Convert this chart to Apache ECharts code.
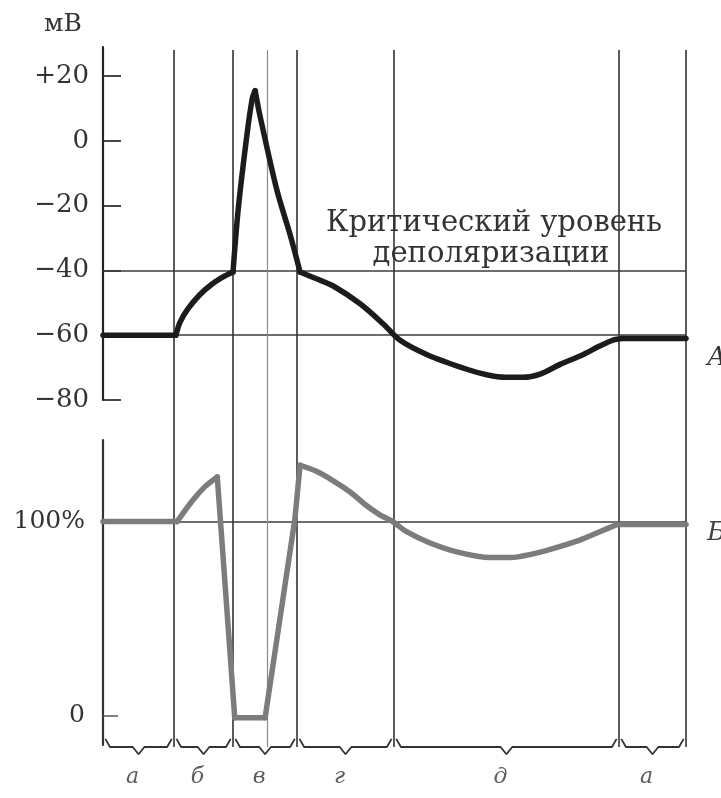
<!DOCTYPE html>
<html><head><meta charset="utf-8">
<script src="https://cdn.jsdelivr.net/npm/echarts@6/dist/echarts.min.js"></script>
<style>html,body{margin:0;padding:0;background:#fff}#c{width:721px;height:798px}</style>
</head><body><div id="c"></div>
<script>
// ---- data ----
const phaseBounds = [0, 12.2, 22.3, 33.3, 49.9, 88.5, 100];
const phaseLabels = ['а', 'б', 'в', 'г', 'д', 'а'];
const innerLines = [28.1];
const mvTicks = [20, 0, -20, -40, -60, -80];
const excitTicks = [0, 100];
const criticalLevel = -40;
const restLevel = -60;
const fullExcit = 100;

const potentialT  = [0, 12.5, 13.2, 14.5, 16.6, 18.5, 20.3, 22.3, 23.2, 24.7, 25.6, 26.1, 26.9, 29.8, 32.1, 33.8, 36.5, 39.5, 44.1, 48, 50.9, 55.6, 62.4, 66, 69, 72, 75, 78.4, 82.3, 85, 87.5, 89, 100];
const potentialMv = [-60, -60, -56, -52, -47.5, -44.5, -42.3, -40.5, -21, 2, 13, 15.5, 8, -15, -29, -40.5, -42.5, -44.8, -50.3, -56.4, -61.5, -66, -70.5, -72.3, -73, -73, -72, -69, -66, -63.5, -61.5, -61, -61];
const potentialCorners = [0, 1, 7, 11, 15, 31, 32];

const excitT   = [0, 12.7, 15.4, 17.5, 19.6, 22.6, 27.8, 32.9, 33.8, 36.5, 39.5, 42.5, 45.3, 47.5, 49.7, 52, 56.1, 61.2, 66.4, 70, 73.2, 77, 81.8, 85, 88.2, 100];
const excitPct = [100, 100, 111, 118, 123, -1, -1, 101, 129, 126, 121, 115, 108, 103.5, 100, 95, 89, 84, 81.5, 81.5, 83, 86, 90.5, 94.5, 98.5, 98.5];
const excitCorners = [0, 1, 4, 5, 6, 7, 8, 24, 25];

// ---- build ----
const FONT = 'DejaVu Serif';
function segments(ts, vs, corners, xi, yi, color, z) {
  const out = [];
  for (let i = 0; i < corners.length - 1; i++) {
    const a = corners[i], b = corners[i + 1];
    const d = [];
    for (let k = a; k <= b; k++) d.push([ts[k], vs[k]]);
    out.push({
      type: 'line', xAxisIndex: xi, yAxisIndex: yi, data: d, showSymbol: false,
      smooth: d.length > 2 ? 0.3 : false, z: z, silent: true,
      lineStyle: { color: color, width: 5.5, cap: 'round', join: 'round' }
    });
  }
  return out;
}
function hLine(xi, yi, v) {
  return { type: 'line', xAxisIndex: xi, yAxisIndex: yi, data: [], z: 1, silent: true,
    markLine: { symbol: 'none', silent: true, animation: false, label: { show: false },
      lineStyle: { type: 'solid', color: '#3c3c3c', width: 1.5 }, data: [{ yAxis: v }] } };
}
const series = [];
series.push(hLine(0, 0, criticalLevel));
series.push(hLine(0, 0, restLevel));
series.push(hLine(1, 1, fullExcit));
// vertical phase boundaries
series.push({ type: 'line', xAxisIndex: 2, yAxisIndex: 2, data: [], z: 1, silent: true,
  markLine: { symbol: 'none', silent: true, animation: false, label: { show: false },
    lineStyle: { type: 'solid', color: '#333', width: 1.6 },
    data: phaseBounds.slice(1).map(v => ({ xAxis: v })) } });
series.push({ type: 'line', xAxisIndex: 2, yAxisIndex: 2, data: [], z: 1, silent: true,
  markLine: { symbol: 'none', silent: true, animation: false, label: { show: false },
    lineStyle: { type: 'solid', color: '#8a8a8a', width: 1.2 },
    data: innerLines.map(v => ({ xAxis: v })) } });
series.push(...segments(potentialT, potentialMv, potentialCorners, 0, 0, '#1c1c1c', 5));
series.push(...segments(excitT, excitPct, excitCorners, 1, 1, '#7c7c7c', 5));
// braces under each phase
for (let i = 0; i < phaseBounds.length - 1; i++) {
  const a = phaseBounds[i], b = phaseBounds[i + 1], m = (a + b) / 2;
  series.push({ type: 'line', xAxisIndex: 3, yAxisIndex: 3, showSymbol: false, silent: true, z: 2,
    data: [[a + 0.4, 0.9], [a + 1.2, 0], [m - 1, 0], [m, -0.8], [m + 1, 0], [b - 1.2, 0], [b - 0.4, 0.9]],
    lineStyle: { color: '#333', width: 1.8 } });
}
series.push({ type: 'scatter', xAxisIndex: 3, yAxisIndex: 3, symbolSize: 0, silent: true, clip: false,
  data: phaseLabels.map((n, i) => ({ name: n, value: [(phaseBounds[i] + phaseBounds[i + 1]) / 2, 0] })),
  label: { show: true, position: 'bottom', distance: 19, offset: [-6, 0], formatter: p => p.name,
    fontFamily: FONT, fontStyle: 'italic', fontSize: 22, color: '#333' } });

const xA = i => ({ type: 'value', gridIndex: i, min: 0, max: 100, show: false });
const chart = echarts.init(document.getElementById('c'), null, { renderer: 'canvas' });
chart.setOption({
  animation: false,
  backgroundColor: '#fff',
  grid: [
    { left: 103, width: 583, top: 47, height: 353 },
    { left: 103, width: 583, top: 440, height: 305 },
    { left: 103, width: 583, top: 50, height: 697 },
    { left: 103, width: 583, top: 738, height: 18 }
  ],
  xAxis: [xA(0), xA(1), xA(2), xA(3)],
  yAxis: [
    { type: 'value', gridIndex: 0, min: -80, max: 29,
      axisLine: { show: true, lineStyle: { color: '#222', width: 2.2 } },
      axisTick: { show: true, inside: true, length: 18, customValues: mvTicks, lineStyle: { color: '#333', width: 1.8 } },
      axisLabel: { show: true, customValues: mvTicks, margin: 14, fontFamily: FONT, fontSize: 26, color: '#333',
        formatter: v => v > 0 ? '+' + v : (v < 0 ? '\u2212' + Math.abs(v) : '0') },
      splitLine: { show: false } },
    { type: 'value', gridIndex: 1, min: -15, max: 142,
      axisLine: { show: true, lineStyle: { color: '#333', width: 2.2 } },
      axisTick: { show: true, inside: true, length: 15, customValues: [0], lineStyle: { color: '#555', width: 1.5 } },
      axisLabel: { show: true, customValues: excitTicks, margin: 18, fontFamily: FONT, fontSize: 25, color: '#333',
        formatter: v => v === 100 ? '100%' : String(v) },
      splitLine: { show: false } },
    { type: 'value', gridIndex: 2, min: 0, max: 1, show: false },
    { type: 'value', gridIndex: 3, min: -1, max: 1, show: false }
  ],
  graphic: [
    { type: 'text', left: 44, top: 12, style: { text: 'мВ', font: '25px "DejaVu Serif"', fill: '#333' } },
    { type: 'text', x: 494, y: 223, style: { text: 'Критический уровень', font: '29px "DejaVu Serif"', fill: '#333', textAlign: 'center', textVerticalAlign: 'middle' } },
    { type: 'text', x: 491, y: 254, style: { text: 'деполяризации', font: '29px "DejaVu Serif"', fill: '#333', textAlign: 'center', textVerticalAlign: 'middle' } },
    { type: 'text', x: 707, y: 358, style: { text: 'А', font: 'italic 26px "DejaVu Serif"', fill: '#333', textVerticalAlign: 'middle' } },
    { type: 'text', x: 707, y: 533, style: { text: 'Б', font: 'italic 26px "DejaVu Serif"', fill: '#444', textVerticalAlign: 'middle' } }
  ],
  series: series
});
</script>
</body></html>
